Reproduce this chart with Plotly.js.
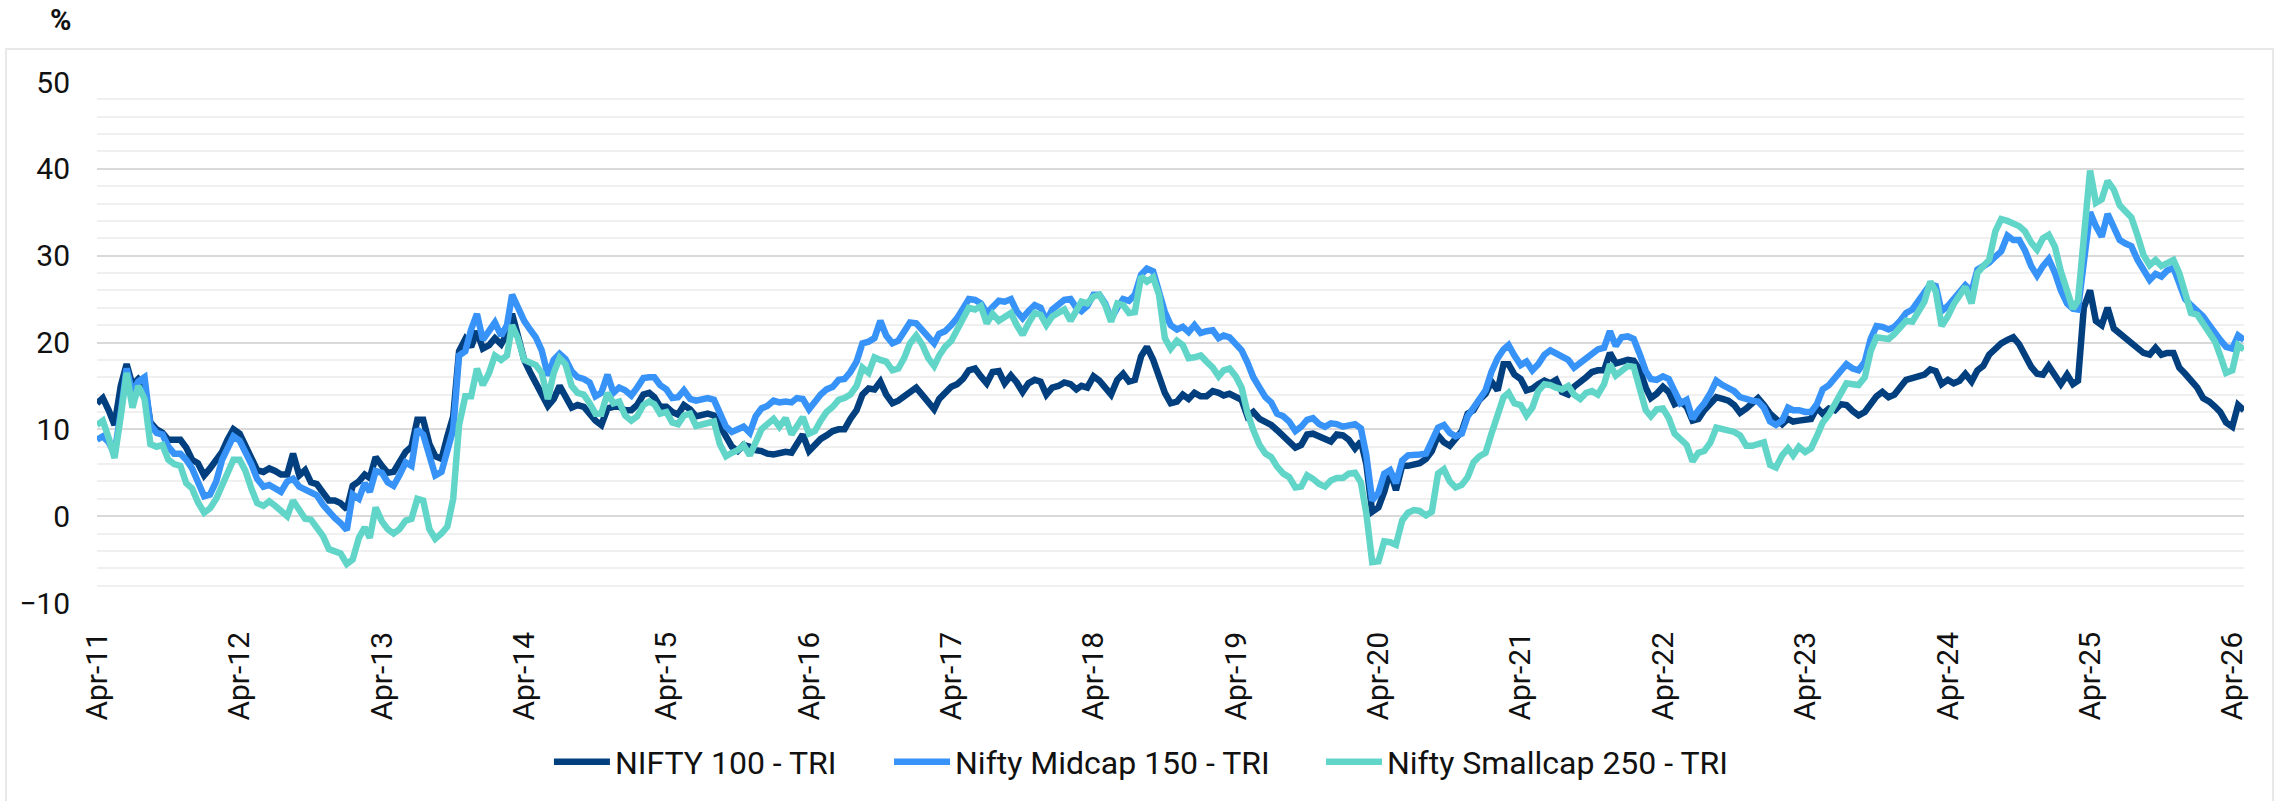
<!DOCTYPE html>
<html>
<head>
<meta charset="utf-8">
<script src="https://cdn.plot.ly/plotly-3.0.1.min.js"></script>
<style>
  html, body { margin: 0; padding: 0; background: #ffffff; }
  #chart { width: 2279px; height: 801px; }
</style>
</head>
<body>
<div id="chart"></div>
<script>
// Series names
const seriesNames = ["NIFTY 100 - TRI", "Nifty Midcap 150 - TRI", "Nifty Smallcap 250 - TRI"];

// Sampling: twice a month (1st and 16th), starting 1 Apr 2011
const startYear = 2011;
const startMonth = 4;

// Y ticks
const yTickValues = [-10, 0, 10, 20, 30, 40, 50];

// Rolling returns (%), one value per half month
const nifty100 = [
  13, 13.6, 12.2, 10.5, 15, 17.5, 15.1, 15.8, 15, 10.8,
  10, 9.6, 8.8, 8.8, 8.8, 7.9, 6.5, 6.1, 4.7, 5.5,
  6.4, 7.4, 8.8, 10, 9.5, 8.2, 6.8, 5.3, 5.1, 5.5,
  5.2, 4.8, 4.8, 7.2, 4.7, 5.3, 3.9, 3.7, 2.7, 1.8,
  1.8, 1.5, 0.8, 3.5, 4, 4.8, 4.4, 6.8, 5.8, 5,
  5.1, 6.4, 7.4, 8, 11.1, 11.1, 8.3, 6.9, 6.6, 9.2,
  11.5, 19, 20.4, 19.5, 21.3, 19.3, 19.7, 20.5, 19.8, 21,
  23.3, 20.8, 18, 16.6, 15.2, 13.8, 12.7, 13.5, 15, 13.8,
  12.5, 12.8, 12.6, 11.8, 11, 10.5, 12.4, 12.6, 12.6, 12.2,
  12.2, 12.8, 14, 14.2, 13.7, 12.6, 12.6, 12, 11.7, 12.8,
  12.3, 11.5, 11.7, 11.8, 11.6, 10.3, 9.2, 8, 7.5, 8.2,
  8, 7.6, 7.5, 7.2, 7.1, 7.2, 7.4, 7.3, 8.2, 9.4,
  7.5, 8.2, 8.9, 9.3, 9.8, 10, 10, 11.2, 12.2, 14,
  14.7, 14.6, 15.5, 14, 13, 13.3, 13.8, 14.5, 14.8, 14,
  13, 12.3, 13.5, 14.3, 14.9, 15.2, 15.8, 16.8, 17, 16.1,
  15.3, 16.6, 16.7, 15.3, 16.2, 15.4, 14.3, 15.3, 15.7, 15.5,
  14, 14.8, 15, 15.4, 15.2, 14.6, 15, 14.8, 16.1, 15.6,
  14.9, 14, 15.7, 16.4, 15.5, 15.7, 18.4, 19.5, 18, 15.8,
  14.2, 13, 13.2, 14, 13.5, 14.2, 13.8, 13.8, 14.4, 14.2,
  13.9, 14.1, 13.8, 13.4, 11.5, 12, 11.2, 10.9, 10.5, 9.9,
  9.2, 8.6, 7.9, 8.2, 9.4, 9.5, 9.2, 8.9, 8.6, 9.4,
  9.3, 8.8, 7.8, 8.6, 6, 0.5, 1, 2.8, 5.2, 3,
  5.8, 5.8, 5.9, 6.1, 6.6, 7.5, 9.3, 8.5, 8.1, 8.8,
  9.8, 11.8, 12.2, 13.4, 14.1, 15.5, 14.5, 17.5, 17.5, 16.3,
  15.8, 14.5, 14.7, 15.2, 15.6, 15.3, 15.7, 14.3, 14, 14.9,
  15.4, 16, 16.6, 16.8, 16.8, 18.8, 17.6, 17.8, 18, 17.9,
  16.8, 14.8, 13.6, 14.1, 14.9, 14.3, 12.9, 13.2, 12.6, 11,
  11.2, 12.2, 13.1, 13.7, 13.5, 13.3, 12.8, 11.9, 12.4, 12.9,
  13.6, 12.8, 11.8, 11.2, 10.6, 11.2, 10.9, 11, 11.1, 11.2,
  12.5, 11.8, 12.4, 12.2, 12.9, 12.8, 12.1, 11.6, 12, 13,
  13.8, 14.3, 13.7, 14, 14.8, 15.7, 15.9, 16.1, 16.3, 16.9,
  16.7, 15.2, 15.7, 15.3, 15.6, 16.4, 15.5, 16.8, 17.3, 18.6,
  19.3, 19.9, 20.3, 20.6, 19.8, 18.6, 17.2, 16.4, 16.3, 17.3,
  16.1, 15.2, 16.3, 15.2, 15.6, 24, 26, 22.5, 22, 24,
  21.6, 21, 20.5, 20, 19.2, 18.8, 18.6, 19.4, 18.6, 18.8,
  18.8, 17.1, 16.4, 15.6, 14.8, 13.6, 13.2, 12.6, 12, 10.8,
  10.3, 12.8, 12.2
];

const midcap150 = [
  8.8, 9.2, 8.5, 7.2, 12, 17, 14.2, 15.5, 16, 10.5,
  9.6, 9.4, 8, 7.2, 7.2, 6.5, 5.5, 4, 2.3, 2.5,
  4, 6.5, 8, 9.2, 8.7, 7.5, 6, 4.3, 3.4, 3.6,
  3.2, 2.8, 4, 4.3, 3.4, 3, 2.8, 2.4, 1.3, 0.5,
  -0.2, -0.8, -1.6, 2.5, 2, 3.8, 2.8, 5.2, 5, 3.9,
  3.5, 4.7, 6.2, 5.8, 10, 9.4, 6.8, 4.7, 5.1, 7.5,
  10, 18.5, 19, 21.5, 23.3, 20.3, 21.4, 22.3, 20.8, 22,
  25.5, 24, 22.5, 21.5, 20.6, 19.1, 16.2, 18, 18.7, 18.1,
  16.7, 16, 15.8, 15.4, 13.8, 14.2, 16.3, 14.2, 14.8, 14.5,
  13.9, 14.8, 15.9, 16, 16, 15.1, 14.6, 13.6, 13.7, 14.5,
  13.5, 13.3, 13.5, 13.6, 13.4, 12, 10.3, 9.7, 10.1, 10.3,
  9.6, 11.5, 12.4, 12.7, 13.3, 13.1, 13.2, 13.1, 13.6, 13.5,
  12.3, 13.2, 14, 14.6, 14.9, 15.7, 15.8, 16.6, 17.8, 19.9,
  20.1, 20.5, 22.5, 20.8, 19.9, 20.2, 21.3, 22.3, 22.2, 21.4,
  20.8, 19.9, 21, 21.3, 22, 22.8, 23.9, 25, 24.9, 24.5,
  23.4, 24.2, 24.8, 24.7, 25, 23.6, 22.8, 23.6, 24.3, 24,
  22.5, 23.8, 24.5, 24.9, 25, 24, 23.6, 24.2, 25.5, 25.5,
  24.5, 22.7, 24, 25, 24.8, 25.5, 27.8, 28.5, 28.2, 26,
  23.5, 22, 21.5, 21.8, 21.2, 22, 21.1, 21.3, 21.4, 20.5,
  20.8, 20.6, 19.9, 19.1, 17.7, 16, 14.8, 13.7, 13.1, 11.8,
  11.5, 10.9, 9.8, 10.3, 11.1, 11.3, 10.6, 10.3, 10.7, 10.6,
  10.3, 10.4, 10.6, 10.1, 7, 1.8, 2.7, 4.9, 5.3, 3.8,
  6.4, 7, 7, 7.1, 7.2, 8.5, 10.2, 10.5, 9.6, 9.2,
  9.5, 11.5, 12.4, 13.5, 14.5, 16.6, 18.2, 19.2, 19.7, 18.5,
  17.4, 17.8, 16.8, 17.5, 18.6, 19.1, 18.7, 18.3, 18, 17.1,
  17.6, 18.1, 18.7, 19.2, 19.4, 21.3, 19.6, 20.6, 20.7, 20.4,
  18.6, 16.7, 15.8, 15.7, 16.1, 15.8, 14.4, 13, 13.4, 11.2,
  12.2, 13, 14.2, 15.6, 15.1, 14.8, 14.4, 13.7, 13.4, 13.3,
  13.2, 12.5, 10.9, 10.5, 11, 12.5, 12.2, 12.2, 12, 12,
  12.9, 14.6, 15.1, 16, 16.8, 17.5, 17, 16.8, 17.8, 20.4,
  21.9, 21.8, 21.5, 21.8, 22.5, 23.4, 23.8, 24.7, 25.7, 26.7,
  26.5, 23.6, 24.2, 25, 25.6, 26.6, 25.9, 28.4, 28.8, 29.2,
  29.9, 30.5, 32.3, 31.8, 31.8, 30.6, 28.8, 27.7, 28.8, 29.6,
  28, 26, 24.5, 23.9, 23.8, 29.5, 35, 33.4, 32.2, 34.8,
  33.4, 31.8, 31.4, 31.1, 29.5, 28.3, 27.2, 27.9, 27.6, 28.3,
  28.6, 26.8, 25, 24.3, 23.6, 23, 22, 21, 20.3, 19.5,
  19.3, 20.8, 20.3
];

const smallcap250 = [
  10.5, 11, 9, 6.7, 11.5, 16.5, 12.5, 15, 13.5, 8.3,
  8, 8.2, 6.5, 6, 5.8, 3.8, 3.2, 1.6, 0.4, 0.9,
  2, 3.6, 5.2, 6.5, 6.5, 5.2, 3.2, 1.5, 1.2, 1.7,
  1.2, 0.6, 0, 1.8, 0.8, -0.3, -0.4, -1.2, -2.3, -3.8,
  -4.1, -4.3, -5.5, -5, -2.5, -1.3, -2.5, 1, -0.6, -1.5,
  -2, -1.5, -0.5, -0.3, 2, 1.8, -1.5, -2.6, -2, -1.2,
  2, 10.5, 13.8, 13.8, 17, 15.1, 16.5, 18.5, 18, 18.5,
  22, 20.5, 18, 17.6, 17.4, 16.5, 13.5, 16.5, 18.2, 17.5,
  15, 14.2, 14, 13, 11.8, 11.8, 14.2, 13, 13.2, 11.6,
  11, 11.5, 12.8, 13.2, 12.9, 11.8, 12, 10.8, 10.6, 11.6,
  11.8, 10.4, 10.6, 10.7, 10.9, 8.3, 6.9, 7.3, 7.6, 8.2,
  7, 8.5, 10, 10.6, 11.2, 10.3, 11.3, 9.4, 10.5, 11.4,
  9.5, 9.8, 11, 12, 12.6, 13.4, 13.6, 14, 15, 17.1,
  16.5, 18.3, 18, 17.8, 16.8, 17, 18.2, 19.9, 20.8, 19.8,
  18.2, 17.3, 18.5, 19.5, 20.2, 21.6, 22.9, 24, 23.8, 24.2,
  22.2, 23.3, 22.5, 23, 23.4, 22, 20.9, 22.2, 23.4, 23.2,
  22, 23, 23.5, 23.8, 22.5, 23.7, 24.7, 24.5, 25.3, 25.5,
  24.3, 22.4, 24.5, 24.3, 23.4, 23.5, 27.6, 27, 27.5, 25.5,
  20.5, 19.3, 20.2, 19.7, 18.2, 18.3, 18.5, 17.8, 17.1, 16.1,
  16.8, 17, 16.1, 14.8, 11.9, 9.9, 8.2, 7.2, 6.8, 5.7,
  4.9, 4.5, 3.3, 3.4, 4.7, 4.3, 3.7, 3.4, 4.1, 4.4,
  4.4, 4.9, 5, 3.9, 0.3, -5.3, -5.2, -2.9, -3, -3.3,
  -0.5, 0.4, 0.7, 0.6, 0.1, 0.5, 4.9, 5.4, 4, 3.3,
  3.6, 4.5, 6.2, 6.9, 7.3, 9.5, 11.5, 13.7, 14.2, 13,
  12.8, 11.6, 12.5, 14.4, 15.2, 15.1, 14.8, 14.6, 15, 14,
  13.5, 14.2, 14.4, 14, 15.2, 17.5, 16.2, 16.7, 17.3, 17.2,
  14.5, 12.2, 11.5, 12.3, 12.4, 11.3, 9.5, 8.8, 8.2, 6.3,
  7.3, 7.5, 8.5, 10.2, 10, 10, 9.7, 9.3, 8.1, 8.1,
  8.3, 8.5, 5.9, 5.6, 7, 7.8, 7, 8, 7.4, 7.8,
  9.2, 10.8, 11.7, 12.8, 14, 15.3, 15.2, 15.1, 16, 19,
  20.6, 20.5, 20.4, 21, 21.9, 22.5, 22.4, 23.4, 24.7, 27,
  25.9, 21.9, 23, 24.4, 25.5, 26.4, 24.5, 28, 28.8, 29.5,
  32.8, 34.2, 34, 33.7, 33.4, 32.8, 31.5, 30.7, 32, 32.4,
  31, 28.2, 25.7, 23.9, 24.8, 33, 39.8, 36.1, 36.5, 38.6,
  37.6, 35.8, 35.2, 34.4, 32.3, 30.1, 28.9, 29.5, 28.8, 29.2,
  29.5, 28, 25.5, 23.4, 23.2, 22.2, 21, 20.1, 18.5, 16.5,
  16.8, 19.7, 19.2
];

const colors = ["#023f7f", "#3793f8", "#62d5c9"];

// Build the half-monthly date axis
function pad(n) { return (n < 10 ? "0" : "") + n; }
const nPts = Math.max(nifty100.length, midcap150.length, smallcap250.length);
const dates = [];
for (let k = 0; k < nPts; k++) {
  const m = (startMonth - 1) + Math.floor(k / 2);
  const y = startYear + Math.floor(m / 12);
  const mm = (m % 12) + 1;
  dates.push(y + "-" + pad(mm) + "-" + (k % 2 === 0 ? "01" : "16"));
}

const legendIds = ["legend", "legend2", "legend3"];
const allSeries = [nifty100, midcap150, smallcap250];
const traces = allSeries.map((vals, i) => ({
  type: "scatter",
  mode: "lines",
  name: seriesNames[i],
  legend: legendIds[i],
  x: dates.slice(0, vals.length),
  y: vals,
  line: { color: colors[i], width: 6.5, shape: "linear" },
  hoverinfo: "skip"
}));

const xRange = ["2011-04-01", "2026-05-01"];
const FONT = "Roboto, 'Open Sans', sans-serif";

function legendAt(xPaper) {
  return {
    orientation: "h",
    x: xPaper,
    xanchor: "left",
    y: -0.305,
    yanchor: "middle",
    font: { family: FONT, size: 32, color: "#111111" },
    bgcolor: "rgba(0,0,0,0)",
    borderwidth: 0,
    itemwidth: 56
  };
}

const layout = {
  width: 2279,
  height: 801,
  margin: { l: 97, r: 35, t: 82, b: 198, pad: 0 },
  paper_bgcolor: "#ffffff",
  plot_bgcolor: "#ffffff",
  font: { family: FONT, size: 30, color: "#111111" },
  showlegend: true,
  xaxis: {
    type: "date",
    range: xRange,
    tick0: "2011-04-01",
    dtick: "M12",
    tickformat: "%b-%y",
    tickangle: -90,
    showgrid: false,
    zeroline: false,
    showline: false,
    ticks: "",
    ticklabelstandoff: 22,
    tickfont: { family: FONT, size: 30, color: "#111111" },
    fixedrange: true
  },
  xaxis2: {
    type: "date",
    overlaying: "x",
    anchor: "free",
    position: 10 / 60,
    side: "bottom",
    range: xRange,
    tick0: "2011-04-01",
    dtick: "M12",
    showgrid: false,
    zeroline: false,
    showline: true,
    linecolor: "#d9d9d9",
    linewidth: 2,
    ticks: "outside",
    ticklen: 9,
    tickwidth: 2,
    tickcolor: "#d9d9d9",
    showticklabels: false,
    fixedrange: true
  },
  yaxis: {
    range: [-10, 50],
    tickvals: yTickValues,
    showgrid: true,
    gridcolor: "#d9d9d9",
    gridwidth: 2,
    zeroline: false,
    showline: false,
    ticks: "",
    ticklabelstandoff: 26,
    tickfont: { family: FONT, size: 30, color: "#111111" },
    minor: { dtick: 2, tick0: 0, showgrid: true, gridcolor: "#f0f0f0", gridwidth: 2 },
    fixedrange: true
  },
  legend: legendAt(0.2105),
  legend2: legendAt(0.3689),
  legend3: legendAt(0.5701),
  annotations: [{
    text: "%",
    xref: "paper", yref: "paper",
    x: -0.0172, y: 1.119,
    xanchor: "center", yanchor: "middle",
    showarrow: false,
    font: { family: FONT, size: 29, color: "#111111", weight: "bold" }
  }],
  shapes: [{
    type: "rect",
    xref: "paper", yref: "paper",
    x0: -0.0424, x1: 1.0135, y0: -0.45, y1: 1.0633,
    line: { color: "#e8e8e8", width: 2 },
    fillcolor: "rgba(0,0,0,0)",
    layer: "below"
  }]
};

Plotly.newPlot("chart", traces, layout, { displayModeBar: false, staticPlot: true });
</script>
</body>
</html>
